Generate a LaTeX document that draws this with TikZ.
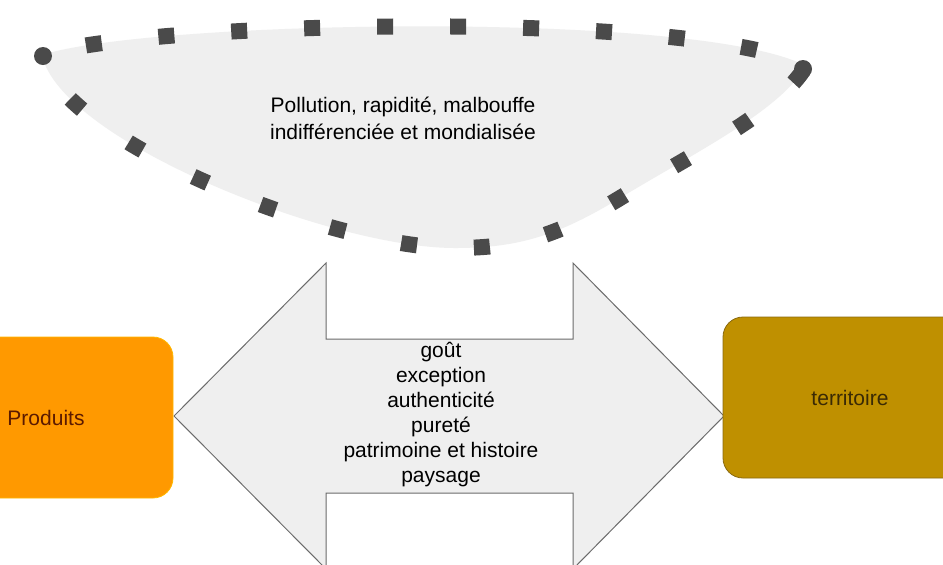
\documentclass[tikz,border=0pt]{standalone}
\usepackage{fontspec}
\setmainfont{Liberation Sans}
\definecolor{cloudgray}{HTML}{EFEFEF}
\definecolor{dotgray}{HTML}{4A4A4A}
\definecolor{arrowline}{HTML}{6B6B6B}
\definecolor{prodorange}{HTML}{FF9900}
\definecolor{prodtext}{HTML}{5B1A00}
\definecolor{terrgold}{HTML}{BF9000}
\definecolor{terrline}{HTML}{8A6A10}
\definecolor{terrtext}{HTML}{3A2A05}
\tikzset{
  plainbox/.style={rounded corners=10pt, minimum width=127pt, minimum height=80.5pt, inner sep=0pt},
  labeltext/.style={font=\fontsize{10.5}{12.5}\selectfont, align=center, inner sep=0pt}
}
\begin{document}
\begin{tikzpicture}[x=0.5pt, y=-0.5pt]
\useasboundingbox (0,0) rectangle (943,564);
\clip (0,0) rectangle (943,564);
\fill[white] (0,0) rectangle (943,564);
% nuage du haut
\fill[cloudgray] (42,55) .. controls (150,20) and (700,10) .. (806,66)
  .. controls (780,110) and (700,150) .. (625,195)
  .. controls (560,235) and (520,248) .. (455,248)
  .. controls (330,248) and (60,140) .. (42,55) -- cycle;
\draw[dotgray, line width=8pt, dash pattern=on 8pt off 28.5pt, dash phase=14pt] (42,55) .. controls (150,20) and (700,10) .. (806,66)
  .. controls (780,110) and (700,150) .. (625,195)
  .. controls (560,235) and (520,248) .. (455,248)
  .. controls (330,248) and (60,140) .. (42,55);
\fill[dotgray] (43,56) circle (4.5pt);
\fill[dotgray] (803,69) circle (4.5pt);
\node[labeltext, font=\fontsize{10.5}{13.5}\selectfont] (nuage) at (403,118) {Pollution, rapidité, malbouffe\\indifférenciée et mondialisée};
% double fleche
\draw[fill=cloudgray, draw=arrowline, line width=0.5pt] (174,416) -- (326,263) -- (326,339) -- (573,339) -- (573,263)
  -- (724,416) -- (573,569) -- (573,493) -- (326,493) -- (326,569) -- cycle;
\node[labeltext] (valeurs) at (441,415) {goût\\exception\\authenticité\\pureté\\patrimoine et histoire\\paysage};
% boites
\node[plainbox, fill=prodorange, draw=prodorange!70!yellow, text=prodtext, font=\fontsize{10.5}{12.5}\selectfont] (produits) at (46,417.5) {Produits};
\node[plainbox, fill=terrgold, draw=terrline, text=terrtext, font=\fontsize{10.5}{12.5}\selectfont] (territoire) at (850,397.5) {territoire};
\end{tikzpicture}
\end{document}
